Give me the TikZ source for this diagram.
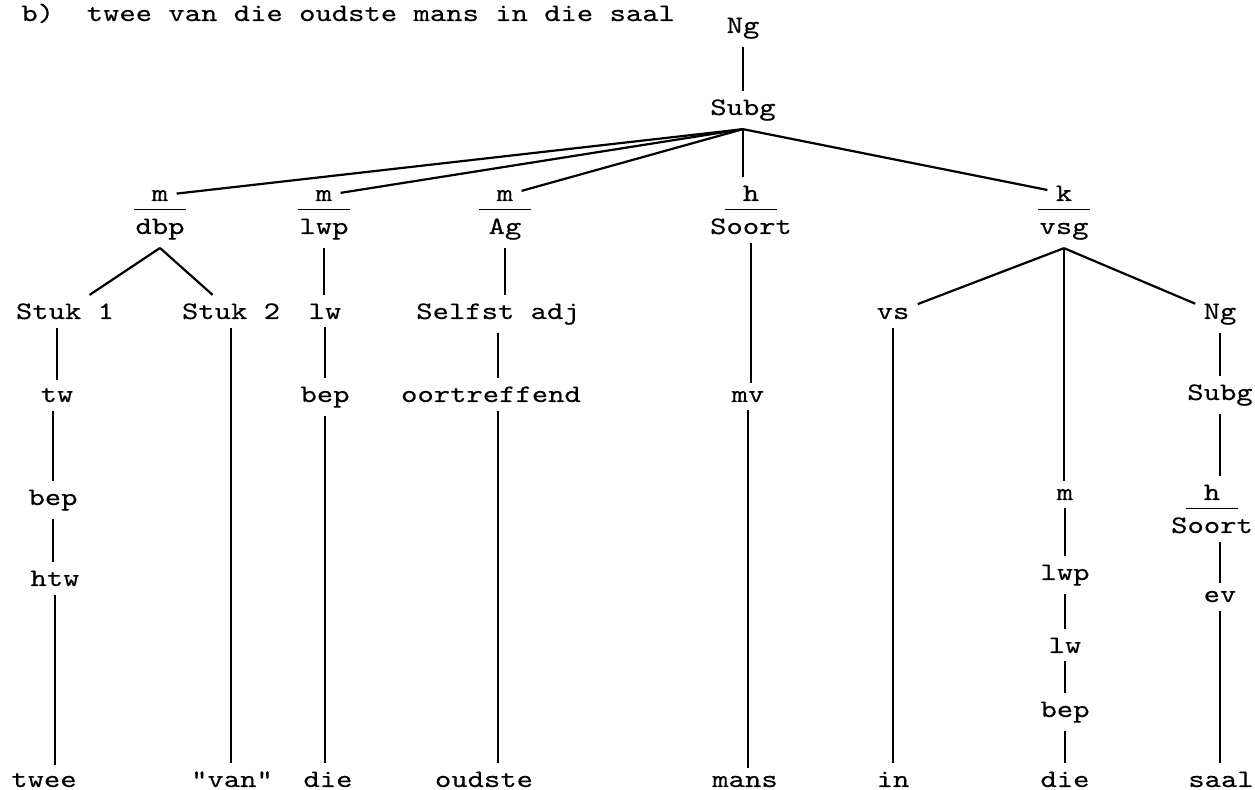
\documentclass[tikz,border=0pt]{standalone}
\usepackage{fontspec}
\setmonofont{lmmono10-regular.otf}[FakeStretch=1.235,FakeBold=0.25]
\tikzset{
	lbl/.style={anchor=base,inner sep=4pt,font=\ttfamily\fontsize{12.6}{15}\selectfont},
	branch/.style={line width=1.1pt},
	vline/.style={line width=0.8pt},
	fracbar/.style={line width=0.9pt},
}
\begin{document}
\begin{tikzpicture}[x=0.5pt,y=-0.5pt]
		\useasboundingbox (0,0) rectangle (1255,790);
		\node [lbl,anchor=base west,inner sep=0pt] (title) at (21,21) {b)\ \ twee van die oudste mans in die saal};
		\node [lbl] (ng) at (743,33) {Ng};
		\node [lbl] (subg) at (743,115) {Subg};
		% function over category
		\node [lbl] (dbpm) at (160,201) {m};
		\node [lbl] (dbp) at (160,234) {dbp};
		\node [lbl] (lwpm) at (324,201) {m};
		\node [lbl] (lwp) at (324,234) {lwp};
		\node [lbl] (agm) at (505,201) {m};
		\node [lbl] (ag) at (505,234) {Ag};
		\node [lbl] (soorth) at (751,201) {h};
		\node [lbl] (soort) at (751,234) {Soort};
		\node [lbl] (vsgk) at (1064,201) {k};
		\node [lbl] (vsg) at (1064,234) {vsg};
		\node [lbl] (rh) at (1212,500) {h};
		\node [lbl] (rsoort) at (1212,533) {Soort};
		\foreach \n in {dbp,lwp,ag,soort,vsg,rsoort}
		\draw [fracbar] (\n.base) ++(-26,-24.5) -- ++(52,0);
		% second level
		\node [lbl] (stuka) at (65,319) {Stuk 1};
		\node [lbl] (stukb) at (231,319) {Stuk 2};
		\node [lbl] (lw) at (325,319) {lw};
		\node [lbl] (selfst) at (498,319) {Selfst adj};
		\node [lbl] (vs) at (893,319) {vs};
		\node [lbl] (ngr) at (1220,319) {Ng};
		\node [lbl] (tw) at (57,402) {tw};
		\node [lbl] (bepc) at (325,402) {bep};
		\node [lbl] (oortr) at (491,402) {oortreffend};
		\node [lbl] (mv) at (748,402) {mv};
		\node [lbl] (subgr) at (1220,400) {Subg};
		\node [lbl] (bepa) at (53,505) {bep};
		\node [lbl] (mr) at (1065,500) {m};
		\node [lbl] (htw) at (55,586) {htw};
		\node [lbl] (lwpr) at (1065,580) {lwp};
		\node [lbl] (ev) at (1220,602) {ev};
		\node [lbl] (lwr) at (1065,653) {lw};
		\node [lbl] (bepr) at (1065,717) {bep};
		% the words
		\node [lbl] (twee) at (44,787) {twee};
		\node [lbl] (van) at (232,787) {"van"};
		\node [lbl] (die) at (328,787) {die};
		\node [lbl] (oudste) at (484,787) {oudste};
		\node [lbl] (mans) at (745,787) {mans};
		\node [lbl] (in) at (893,787) {in};
		\node [lbl] (dier) at (1065,787) {die};
		\node [lbl] (saal) at (1221,787) {saal};
		% branches
		\draw [vline] (ng) -- (ng |- subg.north);
		\draw [branch] (subg.south) -- (dbpm);
		\draw [branch] (subg.south) -- (lwpm);
		\draw [branch] (subg.south) -- (agm);
		\draw [branch] (subg.south) -- (vsgk);
		\draw [vline] (subg.south) -- (subg.south |- soorth.north);
		\draw [branch] (dbp.south) -- (stuka);
		\draw [branch] (dbp.south) -- (stukb);
		\draw [branch] (vsg.south) -- (vs);
		\draw [branch] (vsg.south) -- (ngr);
		\draw [vline] (vsg.south) -- (vsg.south |- mr.north);
		% straight down
		\draw [vline] (stuka.south -| tw) -- (tw);
		\draw [vline] (tw.south -| bepa) -- (bepa);
		\draw [vline] (bepa) -- (bepa |- htw.north);
		\draw [vline] (htw) -- (htw |- twee.north);
		\draw [vline] (stukb) -- (stukb |- van.north);
		\draw [vline] (lwp) -- (lwp |- lw.north);
		\draw [vline] (lw) -- (lw |- bepc.north);
		\draw [vline] (bepc) -- (bepc |- die.north);
		\draw [vline] (ag) -- (ag |- selfst.north);
		\draw [vline] (selfst) -- (selfst |- oortr.north);
		\draw [vline] (oortr.south -| selfst) -- (selfst |- oudste.north);
		\draw [vline] (soort) -- (soort |- mv.north);
		\draw [vline] (mv) -- (mv |- mans.north);
		\draw [vline] (vs) -- (vs |- in.north);
		\draw [vline] (mr) -- (mr |- lwpr.north);
		\draw [vline] (lwpr) -- (lwpr |- lwr.north);
		\draw [vline] (lwr) -- (lwr |- bepr.north);
		\draw [vline] (bepr) -- (bepr |- dier.north);
		\draw [vline] (ngr) -- (ngr |- subgr.north);
		\draw [vline] (subgr) -- (subgr |- rh.north);
		\draw [vline] (rsoort.south -| ev) -- (ev);
		\draw [vline] (ev) -- (ev |- saal.north);
\end{tikzpicture}
\end{document}
